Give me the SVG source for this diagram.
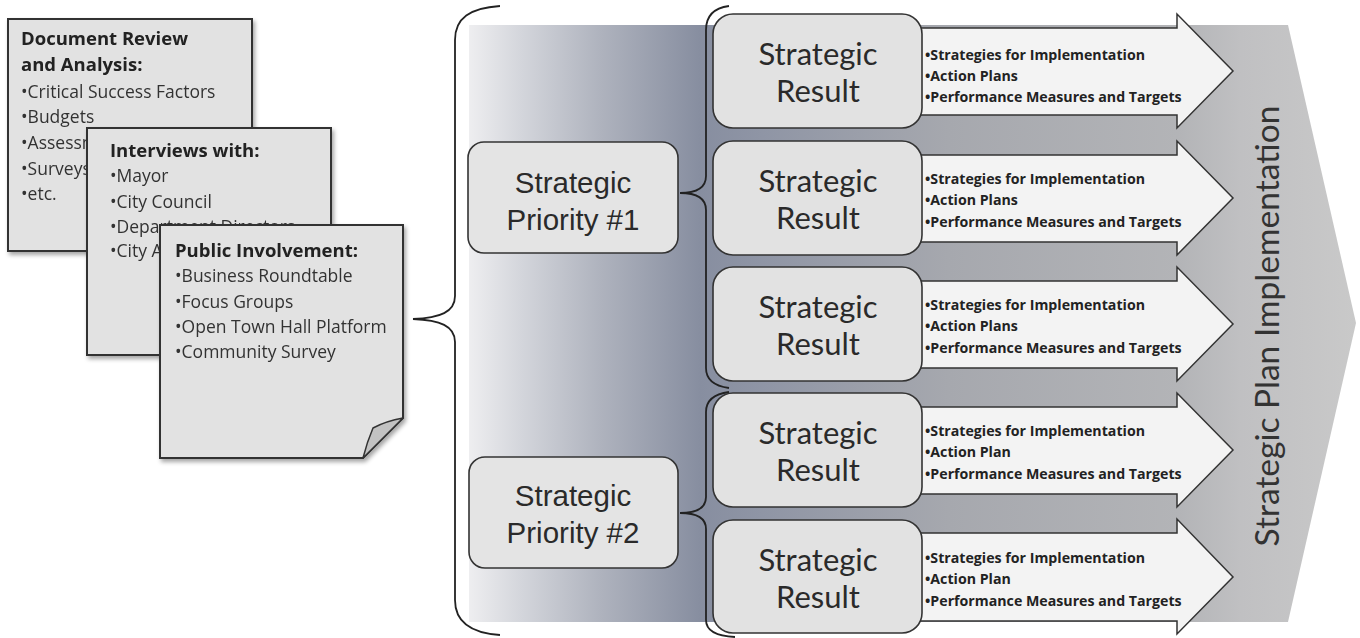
<svg xmlns="http://www.w3.org/2000/svg" width="1360" height="638" viewBox="0 0 1360 638">
  <defs>
    <linearGradient id="bandFill" gradientUnits="userSpaceOnUse" x1="469" y1="0" x2="1356" y2="0">
      <stop offset="0" stop-color="#eeeef0"/>
      <stop offset="0.06" stop-color="#d3d5db"/>
      <stop offset="0.15" stop-color="#aeb2bd"/>
      <stop offset="0.26" stop-color="#878ea0"/>
      <stop offset="0.33" stop-color="#8f95a5"/>
      <stop offset="0.54" stop-color="#a6a8ae"/>
      <stop offset="0.80" stop-color="#b3b4b7"/>
      <stop offset="0.87" stop-color="#c0c0c2"/>
      <stop offset="1" stop-color="#c9c9c9"/>
    </linearGradient>
    <filter id="paperShadow" x="-10%" y="-10%" width="125%" height="125%">
      <feDropShadow dx="2" dy="3" stdDeviation="2" flood-color="#000" flood-opacity="0.35"/>
    </filter>
    <style>
      .paper { fill: #e2e2e2; stroke: #333; stroke-width: 2; }
      .doc-title { font-family: "Open Sans", Lato, sans-serif; font-weight: bold; font-size: 18.5px; fill: #222; }
      .doc-item { font-family: "Open Sans", Lato, sans-serif; font-size: 17.5px; fill: #333; }
      .prio-box { fill: #e4e4e4; stroke: #333; stroke-width: 1.6; }
      .prio-text { font-family: "Liberation Sans", Arial, sans-serif; font-size: 29.5px; fill: #2a2a2a; text-anchor: middle; }
      .res-box { fill: #e2e2e2; stroke: #333; stroke-width: 1.6; }
      .res-text { font-family: Lato, "Liberation Sans", sans-serif; font-size: 31px; fill: #2a2a2a; text-anchor: middle; }
      .res-arrow { fill: #f3f3f3; stroke: #333; stroke-width: 1.5; stroke-linejoin: miter; }
      .res-item { font-family: "Open Sans", Lato, sans-serif; font-weight: bold; font-size: 14.2px; fill: #222; }
      .brace { fill: none; stroke: #222; stroke-width: 1.8; }
      .band-label { font-family: Lato, "Liberation Sans", sans-serif; font-size: 33.5px; fill: #333; text-anchor: middle; }
    </style>
  </defs>

  <!-- large background arrow -->
  <g id="implementation-band">
    <polygon points="469,25 1288,25 1356,323 1288,622 469,622" fill="url(#bandFill)"/>
    <text class="band-label" transform="translate(1279,326) rotate(-90)">Strategic Plan Implementation</text>
  </g>

  <!-- source documents -->
  <g id="doc-review" filter="url(#paperShadow)">
    <rect class="paper" x="8" y="19" width="244" height="232"/>
    <text class="doc-title" x="21" y="45">Document Review</text>
    <text class="doc-title" x="21" y="71">and Analysis:</text>
    <text class="doc-item" x="21" y="98">•Critical Success Factors</text>
    <text class="doc-item" x="21" y="123">•Budgets</text>
    <text class="doc-item" x="21" y="149">•Assessm</text>
    <text class="doc-item" x="21" y="175">•Surveys</text>
    <text class="doc-item" x="21" y="200">•etc.</text>
  </g>

  <g id="doc-interviews" filter="url(#paperShadow)">
    <rect class="paper" x="87" y="128" width="244" height="227"/>
    <text class="doc-title" x="110" y="157">Interviews with:</text>
    <text class="doc-item" x="110" y="182">•Mayor</text>
    <text class="doc-item" x="110" y="208">•City Council</text>
    <text class="doc-item" x="110" y="233">•Department Directors</text>
    <text class="doc-item" x="110" y="257">•City A</text>
  </g>

  <g id="doc-public" filter="url(#paperShadow)">
    <polygon class="paper" points="160,225 403,225 403,418 363,458 160,458"/>
    <path d="M403,418 Q386,421 373,428 Q367,442 363,458 Z" fill="#c2c2c2" stroke="#333" stroke-width="1.5" stroke-linejoin="round"/>
    <text class="doc-title" x="175" y="257">Public Involvement:</text>
    <text class="doc-item" x="175" y="282">•Business Roundtable</text>
    <text class="doc-item" x="175" y="308">•Focus Groups</text>
    <text class="doc-item" x="175" y="333">•Open Town Hall Platform</text>
    <text class="doc-item" x="175" y="358">•Community Survey</text>
  </g>

  <!-- bracket connectors -->
  <g id="connectors">
    <path class="brace" d="M500,6 C470,8 455,18 455,40 V296 C455,312 440,318 413,319 C440,320 455,326 455,342 V600 C455,622 470,633 500,635"/>
    <path class="brace" d="M729,6 C714,8 706,16 706,30 V176 C706,188 697,193 680,193 C697,193 706,198 706,210 V368 C706,380 714,386 729,388"/>
    <path class="brace" d="M729,392 C714,394 706,400 706,412 V497 C706,508 697,513 680,513 C697,513 706,518 706,529 V620 C706,630 714,636 735,637"/>
  </g>

  <!-- strategic priorities -->
  <g id="priority-1">
    <rect class="prio-box" x="468" y="142" width="210" height="111" rx="16"/>
    <text class="prio-text" x="573" y="193">Strategic</text>
    <text class="prio-text" x="573" y="230">Priority #1</text>
  </g>
  <g id="priority-2">
    <rect class="prio-box" x="469" y="457" width="209" height="111" rx="16"/>
    <text class="prio-text" x="573" y="506">Strategic</text>
    <text class="prio-text" x="573" y="543">Priority #2</text>
  </g>

  <!-- strategic results with their deliverable arrows -->
  <g id="result-1">
    <polygon class="res-arrow" points="880,28 1177,28 1177,14 1233,71 1177,128 1177,115 880,115"/>
    <rect class="res-box" x="713" y="14" width="209" height="114" rx="20"/>
    <text class="res-text" x="818" y="65">Strategic</text>
    <text class="res-text" x="818" y="102">Result</text>
    <text class="res-item" x="925" y="60">•Strategies for Implementation</text>
    <text class="res-item" x="925" y="81">•Action Plans</text>
    <text class="res-item" x="925" y="102">•Performance Measures and Targets</text>
  </g>
  <g id="result-2">
    <polygon class="res-arrow" points="880,155 1177,155 1177,141 1233,198 1177,255 1177,242 880,242"/>
    <rect class="res-box" x="713" y="141" width="209" height="114" rx="20"/>
    <text class="res-text" x="818" y="192">Strategic</text>
    <text class="res-text" x="818" y="229">Result</text>
    <text class="res-item" x="925" y="184">•Strategies for Implementation</text>
    <text class="res-item" x="925" y="205">•Action Plans</text>
    <text class="res-item" x="925" y="227">•Performance Measures and Targets</text>
  </g>
  <g id="result-3">
    <polygon class="res-arrow" points="880,281 1177,281 1177,267 1233,324 1177,381 1177,368 880,368"/>
    <rect class="res-box" x="713" y="267" width="209" height="114" rx="20"/>
    <text class="res-text" x="818" y="318">Strategic</text>
    <text class="res-text" x="818" y="355">Result</text>
    <text class="res-item" x="925" y="310">•Strategies for Implementation</text>
    <text class="res-item" x="925" y="331">•Action Plans</text>
    <text class="res-item" x="925" y="353">•Performance Measures and Targets</text>
  </g>
  <g id="result-4">
    <polygon class="res-arrow" points="880,407 1177,407 1177,393 1233,450 1177,507 1177,494 880,494"/>
    <rect class="res-box" x="713" y="393" width="209" height="114" rx="20"/>
    <text class="res-text" x="818" y="444">Strategic</text>
    <text class="res-text" x="818" y="481">Result</text>
    <text class="res-item" x="925" y="436">•Strategies for Implementation</text>
    <text class="res-item" x="925" y="457">•Action Plan</text>
    <text class="res-item" x="925" y="479">•Performance Measures and Targets</text>
  </g>
  <g id="result-5">
    <polygon class="res-arrow" points="880,533 1177,533 1177,519 1233,577 1177,634 1177,621 880,621"/>
    <rect class="res-box" x="713" y="520" width="209" height="113" rx="20"/>
    <text class="res-text" x="818" y="571">Strategic</text>
    <text class="res-text" x="818" y="608">Result</text>
    <text class="res-item" x="925" y="563">•Strategies for Implementation</text>
    <text class="res-item" x="925" y="584">•Action Plan</text>
    <text class="res-item" x="925" y="606">•Performance Measures and Targets</text>
  </g>
</svg>
